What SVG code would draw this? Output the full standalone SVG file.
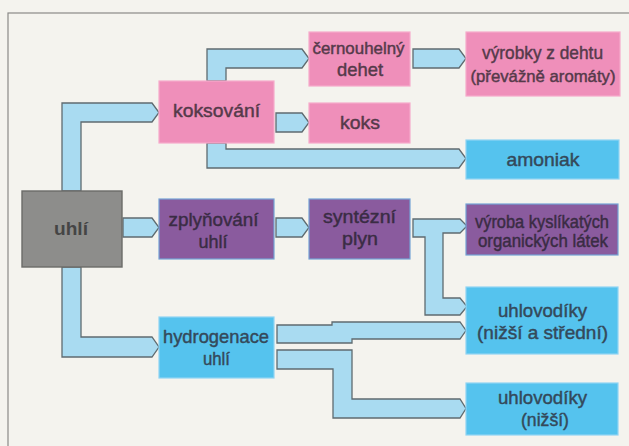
<svg xmlns="http://www.w3.org/2000/svg" width="629" height="446" viewBox="0 0 629 446">
<defs>
<style>
.bg{fill:#f4f3ee}
.frame{fill:none;stroke:#8a8a88;stroke-width:1.2}
.conn path{fill:#a9dbf1;stroke:#5f6b70;stroke-width:1.3;stroke-linejoin:miter}
.pink{fill:#ef8fba;stroke:#f6abcb;stroke-width:1.2}
.purple{fill:#8a5b9e;stroke:#74a3d6;stroke-width:1.2}
.blue{fill:#55c3ee;stroke:#8fd4f3;stroke-width:1.2}
.gray{fill:#8d8d8b;stroke:#6b6b69;stroke-width:1.4}
text{font-family:"Liberation Sans",Arial,sans-serif;font-size:19px;text-anchor:middle;stroke-width:0.45;stroke-linejoin:round}
.tp{fill:#553a4a;stroke:#553a4a}
.tv{fill:#3a2c44;stroke:#3a2c44}
.tb{fill:#34495a;stroke:#34495a}
.tg{fill:#454545;stroke:none;font-weight:bold}
</style>
</defs>
<rect class="bg" x="0" y="0" width="629" height="446"/>
<rect class="frame" x="8" y="13" width="640" height="450"/>

<g id="connectors" class="conn">
<path d="M62,191 V103 H152 L159,112.5 L152,122 H81 V191 Z"/>
<path d="M207,81 V49 H302 L309,58.5 L302,68 H226 V81 Z"/>
<path d="M276,113 H302 L309,122.5 L302,132 H276 Z"/>
<path d="M207,143 V168 H459 L466,158.5 L459,149 H226 V143 Z"/>
<path d="M413,49 H459 L466,58.5 L459,68 H413 Z"/>
<path d="M123,218 H152 L159,227.5 L152,237 H123 Z"/>
<path d="M276,218 H302 L309,227.5 L302,237 H276 Z"/>
<path d="M413,219 H460 L467,226 L460,233 H443 V298 H460 L467,306.5 L460,315 H425 V237 H413 Z"/>
<path d="M62,267 V357 H152 L159,347 L152,337 H81 V267 Z"/>
<path d="M277,325 H332 V322 H460 L466,330.5 L460,339 H352 V343 H277 Z"/>
<path d="M277,350 H352 V399 H460 L466,408.5 L460,418 H333 V369 H277 Z"/>
</g>

<g id="uhli">
<rect class="gray" x="22" y="191" width="100" height="76"/>
<text class="tg" x="71" y="235" textLength="34" lengthAdjust="spacingAndGlyphs">uhlí</text>
</g>
<g id="koksovani">
<rect class="pink" x="159" y="81" width="115" height="62"/>
<text class="tp" x="216.5" y="117" textLength="87" lengthAdjust="spacingAndGlyphs">koksování</text>
</g>
<g id="cernouhelny-dehet">
<rect class="pink" x="309" y="32" width="101" height="54"/>
<text class="tp" x="358.5" y="54" textLength="92" lengthAdjust="spacingAndGlyphs" style="font-size:17px">černouhelný</text>
<text class="tp" x="360" y="76" textLength="46" lengthAdjust="spacingAndGlyphs">dehet</text>
</g>
<g id="koks">
<rect class="pink" x="309" y="103" width="101" height="40"/>
<text class="tp" x="360" y="129" textLength="40" lengthAdjust="spacingAndGlyphs">koks</text>
</g>
<g id="vyrobky-z-dehtu">
<rect class="pink" x="466" y="32" width="154" height="64"/>
<text class="tp" x="542.5" y="59" textLength="121" lengthAdjust="spacingAndGlyphs">výrobky z dehtu</text>
<text class="tp" x="543" y="82" textLength="145" lengthAdjust="spacingAndGlyphs" style="font-size:17px">(převážně aromáty)</text>
</g>
<g id="amoniak">
<rect class="blue" x="466" y="140" width="153" height="39"/>
<text class="tb" x="543" y="166" textLength="73" lengthAdjust="spacingAndGlyphs">amoniak</text>
</g>
<g id="zplynovani-uhli">
<rect class="purple" x="159" y="199" width="115" height="60"/>
<text class="tv" x="213.5" y="226" textLength="90" lengthAdjust="spacingAndGlyphs">zplyňování</text>
<text class="tv" x="213" y="248" textLength="29" lengthAdjust="spacingAndGlyphs">uhlí</text>
</g>
<g id="syntezni-plyn">
<rect class="purple" x="309" y="199" width="101" height="60"/>
<text class="tv" x="359.5" y="223" textLength="73" lengthAdjust="spacingAndGlyphs">syntézní</text>
<text class="tv" x="360" y="245" textLength="36" lengthAdjust="spacingAndGlyphs">plyn</text>
</g>
<g id="vyroba-kyslikatych">
<rect class="purple" x="466" y="204" width="152" height="51"/>
<text class="tv" x="542" y="228" textLength="134" lengthAdjust="spacingAndGlyphs" style="font-size:18px">výroba kyslíkatých</text>
<text class="tv" x="543" y="247" textLength="130" lengthAdjust="spacingAndGlyphs" style="font-size:18px">organických látek</text>
</g>
<g id="hydrogenace-uhli">
<rect class="blue" x="159" y="317" width="115" height="61"/>
<text class="tb" x="216" y="343" textLength="106" lengthAdjust="spacingAndGlyphs">hydrogenace</text>
<text class="tb" x="216.5" y="365" textLength="27" lengthAdjust="spacingAndGlyphs">uhlí</text>
</g>
<g id="uhlovodiky-nizsi-stredni">
<rect class="blue" x="466" y="287" width="152" height="67"/>
<text class="tb" x="542.5" y="317" textLength="89" lengthAdjust="spacingAndGlyphs">uhlovodíky</text>
<text class="tb" x="542.5" y="339" textLength="131" lengthAdjust="spacingAndGlyphs">(nižší a střední)</text>
</g>
<g id="uhlovodiky-nizsi">
<rect class="blue" x="466" y="383" width="152" height="52"/>
<text class="tb" x="542.5" y="404" textLength="89" lengthAdjust="spacingAndGlyphs">uhlovodíky</text>
<text class="tb" x="545" y="426" textLength="48" lengthAdjust="spacingAndGlyphs">(nižší)</text>
</g>
</svg>
